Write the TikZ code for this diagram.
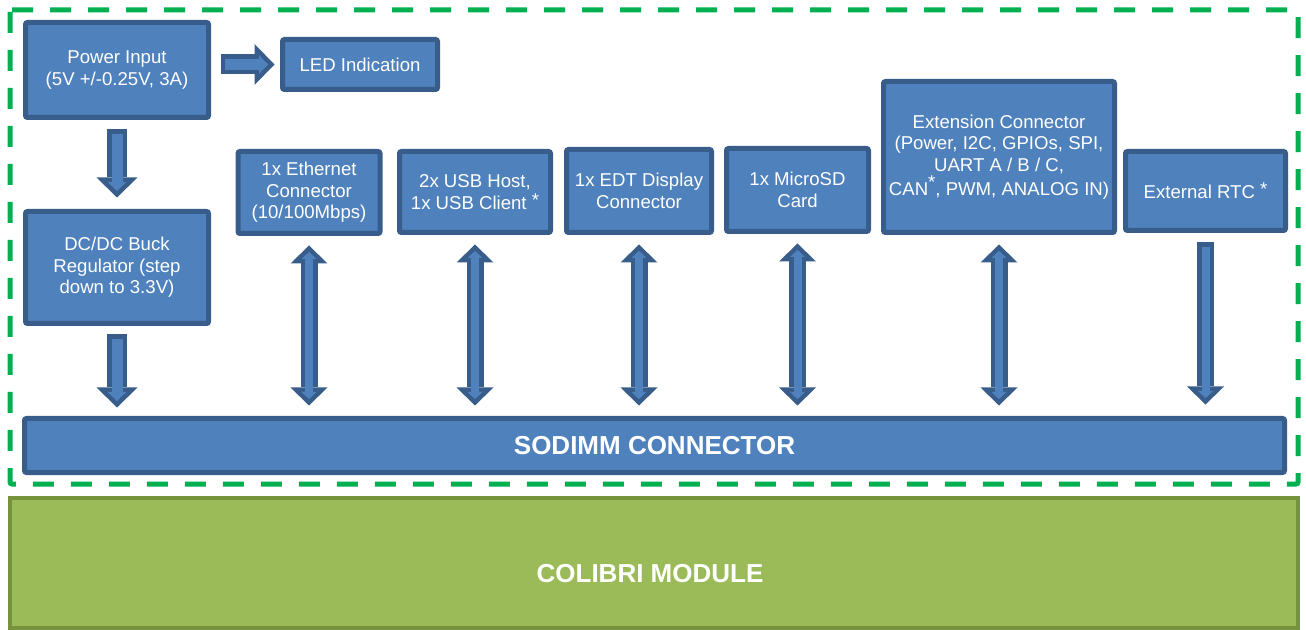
\documentclass[tikz,border=0pt]{standalone}
\usepackage{fontspec}
\setmainfont{Liberation Sans}
\usetikzlibrary{arrows.meta}
\definecolor{boxblue}{HTML}{4F81BD}
\definecolor{boxedge}{HTML}{385D8A}
\definecolor{dashgreen}{HTML}{00B050}
\definecolor{modgreen}{HTML}{9BBB59}
\definecolor{modedge}{HTML}{76923C}

\tikzset{
  blockbox/.style={draw=boxedge, fill=boxblue, line width=2.5pt, rounded corners=1pt,
    text=white, align=center, inner sep=0pt, font=\fontsize{9.3}{10.8}\selectfont},
  fatarrow/.style={draw=boxedge, line width=10pt,
    -{Triangle[width=20.5pt,length=10pt,line width=0pt]},
    postaction={draw=boxblue, line width=5.5pt, shorten <=2.25pt, shorten >=3.2pt,
      -{Triangle[width=9.3pt,length=4.55pt,line width=0pt]}}},
  thinarrow/.style={draw=boxedge, line width=8.5pt,
    -{Triangle[width=18.5pt,length=9pt,line width=0pt]},
    postaction={draw=boxblue, line width=4pt, shorten <=2.25pt, shorten >=3.15pt,
      -{Triangle[width=7.4pt,length=3.6pt,line width=0pt]}}},
  dblarrow/.style={draw=boxedge, line width=8.5pt,
    {Triangle[width=18.5pt,length=9pt,line width=0pt]}-{Triangle[width=18.5pt,length=9pt,line width=0pt]},
    postaction={draw=boxblue, line width=4pt, shorten <=3.15pt, shorten >=3.15pt,
      {Triangle[width=7.4pt,length=3.6pt,line width=0pt]}-{Triangle[width=7.4pt,length=3.6pt,line width=0pt]}}}
}

\begin{document}
\begin{tikzpicture}[x=0.5pt, y=-0.5pt]
\useasboundingbox (0,0) rectangle (1306,630);

% carrier board outline
\draw[dashgreen, line width=2.5pt, dash pattern=on 10.5pt off 8.5pt, rounded corners=1pt]
  (10,10) rectangle (1298,484);

% module
\node[draw=modedge, fill=modgreen, line width=2pt, minimum width=644pt, minimum height=65pt,
  inner sep=0pt] (colibri) at (654,563) {};
\node[text=white, font=\bfseries\fontsize{13}{15}\selectfont] (colibritext) at (650,574) {COLIBRI MODULE};

% blocks
\node[blockbox, minimum width=630pt, minimum height=27pt, font=\bfseries\fontsize{13}{15}\selectfont]
  (sodimm) at (654.5,445.5) {SODIMM CONNECTOR};
\node[blockbox, minimum width=91.5pt, minimum height=47.5pt] (pwr) at (117,70) {Power Input\\(5V +/-0.25V, 3A)};
\node[blockbox, minimum width=77.5pt, minimum height=25pt] (led) at (360,64.5) {LED Indication};
\node[blockbox, minimum width=91.5pt, minimum height=56pt] (dcdc) at (117,267.5) {DC/DC Buck\\Regulator (step\\down to 3.3V)};
\node[blockbox, minimum width=71pt, minimum height=41pt] (eth) at (309,192.5) {1x Ethernet\\Connector\\(10/100Mbps)};
\node[blockbox, minimum width=75.5pt, minimum height=40.5pt] (usb) at (475,192) {2x USB Host,\\1x USB Client \raisebox{1.5pt}{*}};
\node[blockbox, minimum width=72.5pt, minimum height=41.5pt] (edt) at (639,191) {1x EDT Display\\Connector};
\node[blockbox, minimum width=71pt, minimum height=41.5pt] (sd) at (797.5,190) {1x MicroSD\\Card};
\node[blockbox, minimum width=115.5pt, minimum height=75.5pt] (ext) at (999,157) {Extension Connector\\(Power, I2C, GPIOs, SPI,\\UART A / B / C,\\CAN\raisebox{3.5pt}{*}, PWM, ANALOG IN)};
\node[blockbox, minimum width=80pt, minimum height=39.5pt] (rtc) at (1205.5,191) {External RTC \raisebox{1.5pt}{*}};

% arrows
\draw[fatarrow] ([xshift=4.75pt]pwr.east |- led.west) -- ([xshift=-2.75pt]led.west);
\draw[fatarrow] ([yshift=-4.75pt]pwr.south) -- ([yshift=5.75pt]dcdc.north);
\draw[fatarrow] ([yshift=-4.25pt]dcdc.south) -- ([yshift=4.25pt]dcdc.south |- sodimm.north);
\foreach \n in {eth,usb,edt,sd,ext}
  \draw[dblarrow] ([yshift=-4.75pt]\n.south) -- ([yshift=5.25pt]\n.south |- sodimm.north);
\draw[thinarrow] ([yshift=-4.75pt]rtc.south) -- ([yshift=5.75pt]rtc.south |- sodimm.north);
\end{tikzpicture}
\end{document}
